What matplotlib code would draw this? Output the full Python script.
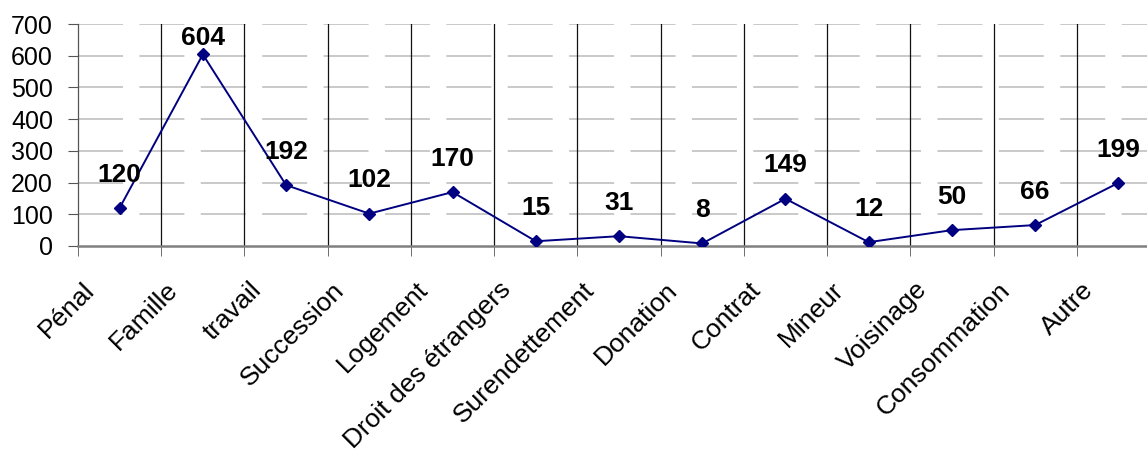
import numpy as np
import matplotlib.pyplot as plt
import matplotlib.transforms as mtransforms

categories = ['Pénal', 'Famille', 'travail', 'Succession', 'Logement',
              'Droit des étrangers', 'Surendettement', 'Donation', 'Contrat',
              'Mineur', 'Voisinage', 'Consommation', 'Autre']
values = [120, 604, 192, 102, 170, 15, 31, 8, 149, 12, 50, 66, 199]
y_ticks = [0, 100, 200, 300, 400, 500, 600, 700]

plt.rcParams['font.family'] = ['Liberation Sans', 'DejaVu Sans']
plt.rcParams['lines.scale_dashes'] = False

fig = plt.figure(figsize=(11.47, 4.55), dpi=100)
# the plot area runs a little past the right edge of the picture
ax = fig.add_axes([78 / 1147, 1 - 246 / 455, 1082 / 1147, 222 / 455])

x = np.arange(len(categories))
ax.plot(x, values, color='#000080', lw=1.4, marker='D', markersize=6,
        markerfacecolor='#000080', markeredgecolor='#000080', zorder=3)

for xi, v in zip(x, values):
    off = 12 if v > 550 else 24
    ax.annotate(str(v), (xi, v), xytext=(0, off), textcoords='offset points',
                ha='center', va='center', fontsize=19, fontweight='bold')

ax.set_xlim(-0.5, len(categories) - 0.5)
ax.set_ylim(0, 700)
ax.set_yticks(y_ticks)
ax.tick_params(axis='y', labelsize=18, length=7, color='#555555', pad=11)

# dashed horizontal grid
for yv in y_ticks[1:]:
    ax.axhline(yv, color='#c0c0c0', lw=1.2, dashes=(32.4, 11.8), zorder=1)

# vertical separators between categories
bounds = np.arange(0.5, len(categories) - 0.5, 1)
for b in bounds:
    ax.axvline(b, color='#111111', lw=0.9, zorder=1)

ax.set_xticks(x)
ax.set_xticklabels(categories, rotation=45, ha='right', rotation_mode='anchor',
                   fontsize=19)
ax.tick_params(axis='x', which='major', length=0, pad=4)
shift = mtransforms.ScaledTranslation(-37 / 100, -26 / 100, fig.dpi_scale_trans)
for lab in ax.get_xticklabels():
    lab.set_transform(lab.get_transform() + shift)
ax.set_xticks(np.append(bounds, -0.5), minor=True)
ax.tick_params(axis='x', which='minor', length=7, color='#555555')

for s in ['top', 'right']:
    ax.spines[s].set_visible(False)
ax.spines['bottom'].set_color('#808080')
ax.spines['bottom'].set_linewidth(1.8)
ax.spines['left'].set_color('#555555')
ax.spines['left'].set_linewidth(0.9)

fig.savefig('out.png', dpi=100)
